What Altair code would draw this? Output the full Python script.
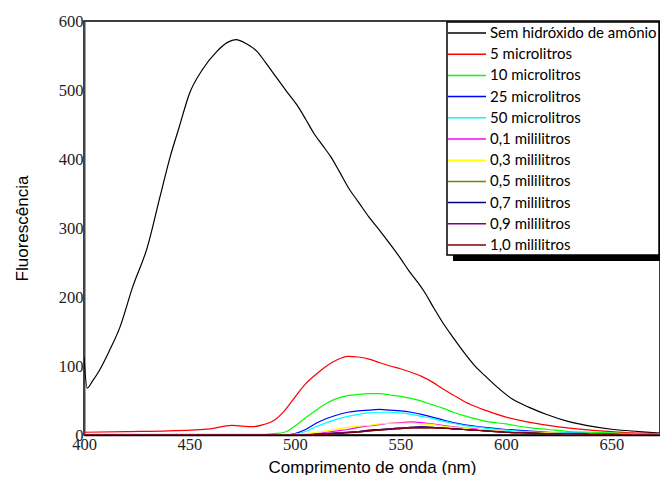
import altair as alt
import pandas as pd

# ---------------- data ----------------
names = ["Sem hidróxido de amônio", "5 microlitros", "10 microlitros", "25 microlitros",
         "50 microlitros", "0,1 mililitros", "0,3 mililitros", "0,5 mililitros",
         "0,7 mililitros", "0,9 mililitros", "1,0 mililitros"]
colors = ["#000000", "#FF0000", "#00FF00", "#0000FF", "#00FFFF", "#FF00FF",
          "#FFFF00", "#808000", "#000080", "#800080", "#800000"]

x_ticks = [400, 450, 500, 550, 600, 650]
y_ticks = [0, 100, 200, 300, 400, 500, 600]

# black curve (no ammonium hydroxide)
bk_wl = [400, 401.5, 404, 407, 412, 417, 423, 430, 436, 441, 445, 450, 456, 463, 468, 472,
         477, 482, 486, 491, 496, 501, 505, 509, 513, 517, 521, 526, 530, 535, 540, 545,
         550, 554, 558, 561, 566, 570, 575, 580, 585, 590, 596, 603, 611, 619, 629, 638,
         651, 663, 676]
bk_val = [113, 68, 78, 92, 122, 156, 214, 272, 345, 405, 445, 495, 529, 556, 569, 573,
          567, 556, 540, 519, 498, 478, 458, 437, 420, 403, 382, 355, 338, 316, 297, 277,
          256, 238, 222, 209, 183, 163, 141, 120, 101, 86, 69, 52, 40, 30, 20, 14,
          8, 5, 2]

# common wavelength grid for the other series
grid = [400, 420, 440, 460, 470, 480, 485, 490, 495, 500, 505, 510, 515, 520, 525, 530,
        535, 540, 545, 550, 555, 560, 565, 570, 575, 580, 585, 590, 600, 610, 620, 630,
        640, 650, 660, 676]

v_5ul = [4, 5, 6, 9, 14, 12, 15, 21, 35, 55, 74, 88, 100, 109, 114, 113,
         110, 105, 100, 96, 91, 85, 77, 67, 58, 49, 42, 36, 26, 19, 14, 10,
         7, 5, 3, 2]
v_10ul = [1, 1, 1, 1, 1, 1, 1, 2, 4, 13, 25, 36, 46, 53, 57, 59,
          60, 60, 58, 56, 53, 49, 44, 39, 33, 28, 24, 20, 16, 11, 8, 5,
          4, 3, 2, 1]
v_25ul = [0, 0, 0, 0, 0, 0, 0, 0, 0, 2, 8, 17, 24, 29, 33, 35,
          36, 37, 36, 35, 33, 30, 26, 22, 18, 15, 13, 11, 8, 6, 4, 3,
          2, 1, 1, 0]
v_50ul = [0, 0, 0, 0, 0, 0, 0, 0, 0, 1, 5, 12, 18, 23, 27, 30,
          32, 33, 33, 32, 30, 27, 24, 20, 17, 14, 12, 10, 7, 5, 4, 3,
          2, 1, 1, 0]
v_01ml = [0, 0, 0, 0, 0, 0, 0, 0, 0, 0, 1, 2, 4, 6, 8, 11,
          13, 15, 17, 18, 19, 18, 16, 14, 12, 10, 9, 7, 5, 4, 3, 2,
          2, 1, 1, 0]
v_03ml = [0, 0, 0, 0, 0, 0, 0, 0, 0, 1, 2, 4, 6, 9, 11, 13,
          14, 16, 17, 17, 17, 16, 15, 13, 11, 10, 8, 7, 5, 4, 3, 2,
          2, 1, 1, 0]
v_05ml = [0, 0, 0, 0, 0, 0, 0, 0, 0, 0, 0, 1, 2, 3, 4, 5,
          6, 8, 9, 10, 11, 11, 11, 10, 9, 8, 7, 6, 4, 3, 2, 2,
          1, 1, 0, 0]
v_07ml = [0, 0, 0, 0, 0, 0, 0, 0, 0, 0, 0, 1, 2, 3, 4, 5,
          7, 8, 9, 10, 11, 12, 11, 10, 9, 8, 7, 6, 4, 3, 2, 2,
          1, 1, 0, 0]
v_09ml = [0, 0, 0, 0, 0, 0, 0, 0, 0, 0, 0, 1, 2, 3, 4, 5,
          6, 7, 9, 10, 11, 11, 11, 10, 9, 8, 7, 6, 4, 3, 2, 2,
          1, 1, 0, 0]
v_10ml = [0, 0, 0, 0, 0, 0, 0, 0, 0, 0, 0, 1, 1, 2, 3, 4,
          6, 7, 8, 9, 10, 10, 10, 10, 9, 8, 7, 6, 4, 3, 2, 2,
          1, 1, 0, 0]

grid_series = [v_5ul, v_10ul, v_25ul, v_50ul, v_01ml, v_03ml, v_05ml, v_07ml, v_09ml, v_10ml]

# ---------------- tables ----------------
rows = []
for w, v in zip(bk_wl, bk_val):
    rows.append({"wl": w, "val": v, "serie": names[0], "k": 0})
for i, vals in enumerate(grid_series, start=1):
    for w, v in zip(grid, vals):
        rows.append({"wl": w, "val": v, "serie": names[i], "k": i})
df = pd.DataFrame(rows)

leg_df = pd.DataFrame({"serie": names, "idx": list(range(len(names)))})
one = pd.DataFrame({"a": [0]})

color_scale = alt.Scale(domain=names, range=colors)

lines = alt.Chart(df).mark_line(strokeWidth=1.2, interpolate="monotone", clip=True).encode(
    x=alt.X("wl:Q",
            scale=alt.Scale(domain=[400, 673], nice=False, zero=False),
            axis=alt.Axis(values=x_ticks, ticks=False, grid=False, labelFlush=False,
                          labelOverlap=False,
                          labelFont="Liberation Serif", labelFontSize=16.5, labelColor="#222",
                          labelPadding=1, domainColor="black", domainWidth=1.5,
                          title="Comprimento de onda (nm)", titleFont="Liberation Sans",
                          titleFontSize=17, titleFontWeight="normal", titleColor="black",
                          titleBaseline="alphabetic", titleY=37)),
    y=alt.Y("val:Q",
            scale=alt.Scale(domain=[0, 600], nice=False, zero=True),
            axis=alt.Axis(values=y_ticks, ticks=False, grid=False, labelFlush=False,
                          labelOverlap=False,
                          labelFont="Liberation Serif", labelFontSize=16.5, labelColor="#222",
                          labelPadding=1, domainColor="#444", domainWidth=2,
                          title="Fluorescência", titleFont="Liberation Sans",
                          titleFontSize=17, titleFontWeight="normal", titleColor="black",
                          titleBaseline="alphabetic", titleX=-57)),
    color=alt.Color("serie:N", scale=color_scale, legend=None),
    detail="k:N",
    order="wl:Q",
)

shadow = alt.Chart(one).mark_rect(color="black").encode(
    x=alt.value(369), x2=alt.value(590), y=alt.value(7), y2=alt.value(240))
box = alt.Chart(one).mark_rect(fill="white", stroke="black", strokeWidth=1.5).encode(
    x=alt.value(363), x2=alt.value(575), y=alt.value(1), y2=alt.value(234))

leg_y = alt.Y("idx:Q", scale=alt.Scale(domain=[0, 10], range=[12, 224]), axis=None)
leg_rules = alt.Chart(leg_df).mark_rule(strokeWidth=1.5).encode(
    x=alt.value(364), x2=alt.value(402), y=leg_y,
    color=alt.Color("serie:N", scale=color_scale, legend=None))
leg_text = alt.Chart(leg_df).mark_text(align="left", baseline="middle", font="Lato",
                                       fontSize=15, color="black").encode(
    x=alt.value(406), y=leg_y, text="serie:N")

chart = alt.layer(lines, shadow, box, leg_rules, leg_text).resolve_scale(
    y="independent"
).properties(
    width=576, height=414,
    autosize=alt.AutoSizeParams(type="none"),
    padding={"left": 76, "top": 13, "right": 0, "bottom": 40},
    background="white",
).configure_view(stroke="black", strokeWidth=1.5)

chart.save("out.html", embed_options={"renderer": "svg", "actions": False})
